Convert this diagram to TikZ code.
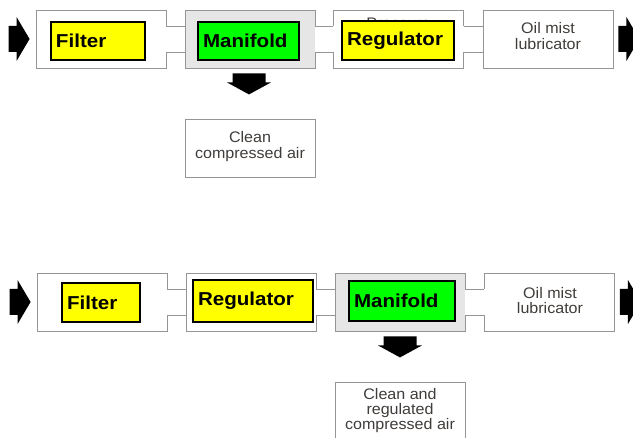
\documentclass[tikz,border=0pt]{standalone}
\usepackage{fontspec}
\setmainfont{Liberation Sans}
\newfontfamily\boxfont{Liberation Sans}[FakeStretch=1.1]
\newfontfamily\smallfont{Liberation Sans}[FakeStretch=1.05]
\usetikzlibrary{calc}
\definecolor{outl}{HTML}{959595}
\definecolor{manifill}{HTML}{E6E6E6}
\definecolor{txtgray}{HTML}{403C3A}
\definecolor{yel}{HTML}{FFFF00}
\definecolor{grn}{HTML}{00FF00}
\tikzset{
  outerbox/.style={draw=outl, line width=0.85pt, fill=white, minimum width=130pt, minimum height=58pt, inner sep=0pt},
  manibox/.style={outerbox, fill=manifill},
  resultbox/.style={draw=outl, line width=0.85pt, fill=white, minimum width=130pt, minimum height=58pt, inner sep=0pt},
  smalltext/.style={font=\smallfont\fontsize{15.3}{15.3}\selectfont, text=txtgray, align=center, inner sep=0pt},
  labelbox/.style={draw=black, line width=2pt, anchor=north west, inner xsep=5pt, inner ysep=0pt, align=left, font=\boxfont\bfseries\fontsize{18.7}{20}\selectfont, text=black},
  ybox/.style={labelbox, fill=yel},
  gbox/.style={labelbox, fill=grn},
  channel/.style={draw=outl, line width=0.85pt},
  rarrow/.pic={\fill[black] (-21,-13) -- (-13,-13) -- (-13,-22) -- (0,0) -- (-13,22) -- (-13,13) -- (-21,13) -- cycle;},
  darrow/.pic={\fill[black] (-16.5,-21) -- (16.5,-21) -- (16.5,-12) -- (22,-12) -- (0,0) -- (-22,-12) -- (-16.5,-12) -- cycle;}
}
\newcommand{\channelbetween}[2]{%
  \fill[white] ($(#1.east)+(-0.6,-13)$) rectangle ($(#2.west)+(0.6,13)$);
  \draw[channel] ($(#1.east)+(0,-13)$) -- ($(#2.west)+(0,-13)$);
  \draw[channel] ($(#1.east)+(0,13)$) -- ($(#2.west)+(0,13)$);
}
\begin{document}
\begin{tikzpicture}[x=1pt,y=-1pt]
\useasboundingbox (0,0) rectangle (633,438);
% ---------- top row ----------
\node[outerbox] (f1) at (101,39) {};
\node[manibox] (m1) at (250,39) {};
\node[outerbox] (r1) at (398.5,39) {};
\node[outerbox] (o1) at (548,39) {};
\channelbetween{f1}{m1}
\channelbetween{m1}{r1}
\channelbetween{r1}{o1}
\node[smalltext, anchor=base] (pr1) at (398.5,28.5) {Pressure};
\node[ybox, minimum width=94pt, minimum height=38pt, text width=84pt] (fl1) at (50,21) {Filter};
\node[gbox, minimum width=101pt, minimum height=38pt, text width=91pt] (mn1) at (197,21) {Manifold};
\node[ybox, minimum width=112pt, minimum height=39pt, text width=102pt] (rg1) at (341,20) {Regulator};
\node[smalltext] (ot1) at (548,36) {Oil mist\\lubricator};
\node[resultbox] (c1) at (250,148) {};
\node[smalltext] (ct1) at (250,146.5) {Clean\\compressed air};
\pic at ($(f1.west)+(-6,0)$) {rarrow};
\pic at ($(o1.east)+(26,0)$) {rarrow};
\pic at ($(m1.south)+(-1,26)$) {darrow};
% ---------- bottom row ----------
\node[outerbox] (f2) at (102,302) {};
\node[outerbox] (r2) at (251,302) {};
\node[manibox] (m2) at (400,302) {};
\node[outerbox] (o2) at (549.5,302) {};
\channelbetween{f2}{r2}
\channelbetween{r2}{m2}
\channelbetween{m2}{o2}
\node[ybox, minimum width=78pt, minimum height=39pt, text width=68pt] (fl2) at (61,282) {Filter};
\node[ybox, minimum width=120pt, minimum height=42pt, text width=110pt] (rg2) at (192,279) {Regulator};
\node[gbox, minimum width=106pt, minimum height=40pt, text width=96pt] (mn2) at (348,280) {Manifold};
\node[smalltext] (ot2) at (550,300.5) {Oil mist\\lubricator};
\node[resultbox, minimum height=64pt] (c2) at (400,414) {};
\node[smalltext] (ct2) at (400,410.5) {Clean and\\regulated\\compressed air};
\pic at ($(f2.west)+(-6,0)$) {rarrow};
\pic at ($(o2.east)+(26,0)$) {rarrow};
\pic at ($(m2.south)+(0,26)$) {darrow};
\end{tikzpicture}
\end{document}
